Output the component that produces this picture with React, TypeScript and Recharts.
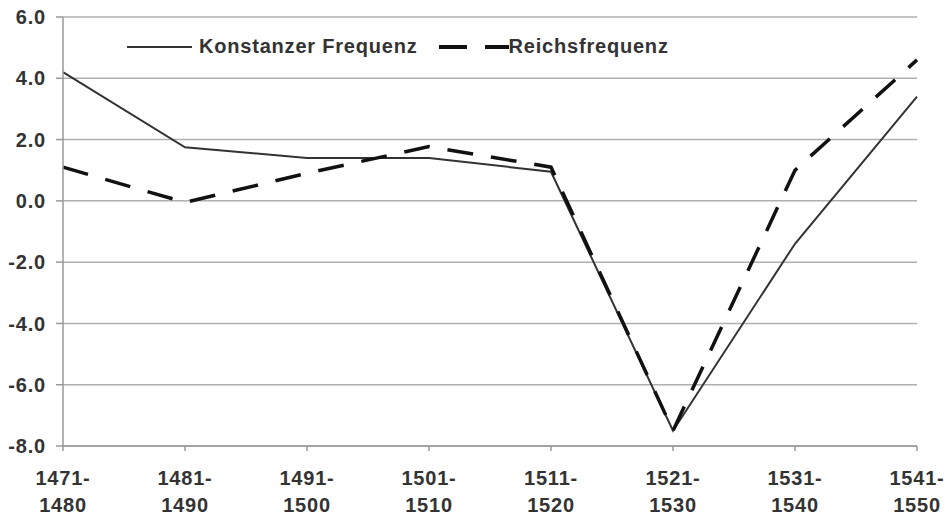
import { CartesianGrid, Line, LineChart, XAxis, YAxis } from "recharts";

const periods = [
  "1471-1480",
  "1481-1490",
  "1491-1500",
  "1501-1510",
  "1511-1520",
  "1521-1530",
  "1531-1540",
  "1541-1550",
];
const konstanzer = [4.2, 1.75, 1.4, 1.4, 0.95, -7.5, -1.4, 3.4];
const reichs = [1.1, -0.05, 0.9, 1.77, 1.1, -7.5, 1.0, 4.6];
const yTicks = [-8, -6, -4, -2, 0, 2, 4, 6];

const data = periods.map((p, i) => ({
  period: p,
  konstanzer: konstanzer[i],
  reichs: reichs[i],
}));

const font = "'Liberation Sans', Arial, sans-serif";
const textColor = "#333";

const PeriodTick = (props: any) => {
  const { x, y, payload } = props;
  const [from, to] = String(payload.value).split("-");
  return (
    <text
      x={x}
      y={y}
      textAnchor="middle"
      fill={textColor}
      fontFamily={font}
      fontWeight="bold"
      fontSize={20}
      letterSpacing={0.8}
    >
      <tspan x={x} dy={34}>{`${from}-`}</tspan>
      <tspan x={x} dy={27}>{to}</tspan>
    </text>
  );
};

// legend sits inside the plot, drawn as an overlay so it takes no chart space
const LegendBox = () => (
  <div
    style={{
      position: "absolute",
      top: 35,
      left: 127,
      display: "flex",
      alignItems: "center",
      fontFamily: font,
      fontWeight: "bold",
      fontSize: 20,
      letterSpacing: 0.8,
      color: textColor,
      whiteSpace: "nowrap",
    }}
  >
    <svg width={72} height={10}>
      <line x1={0} y1={5} x2={65} y2={5} stroke="#333" strokeWidth={2} />
    </svg>
    <span>Konstanzer Frequenz</span>
    <svg width={91} height={10} style={{ marginLeft: 21 }}>
      <line x1={0} y1={5} x2={28} y2={5} stroke="#111" strokeWidth={4} />
      <line x1={46} y1={5} x2={70} y2={5} stroke="#111" strokeWidth={4} />
    </svg>
    <span style={{ marginLeft: -21 }}>Reichsfrequenz</span>
  </div>
);

export default function App() {
  return (
    <div style={{ position: "absolute", left: 0, top: 0, background: "#fff" }}>
      <LineChart
        width={952}
        height={516}
        data={data}
        margin={{ top: 17, right: 35, bottom: 0, left: 0 }}
      >
        <CartesianGrid vertical={false} stroke="#b0b0b0" strokeWidth={1.5} />
        <XAxis
          dataKey="period"
          height={70}
          interval={0}
          tick={<PeriodTick />}
          tickSize={5}
          tickMargin={0}
          axisLine={{ stroke: "#999", strokeWidth: 1.5 }}
          tickLine={{ stroke: "#999", strokeWidth: 1.5 }}
        />
        <YAxis
          width={63}
          domain={[-8, 6]}
          ticks={yTicks}
          interval={0}
          tickSize={7}
          tickMargin={10}
          tickFormatter={(v: number) => v.toFixed(1)}
          tick={{
            fill: textColor,
            fontFamily: font,
            fontWeight: "bold",
            fontSize: 20,
            letterSpacing: 0.8,
          }}
          axisLine={{ stroke: "#999", strokeWidth: 1.5 }}
          tickLine={{ stroke: "#999", strokeWidth: 1.5 }}
        />
        <Line
          type="linear"
          dataKey="konstanzer"
          name="Konstanzer Frequenz"
          stroke="#333"
          strokeWidth={2}
          dot={false}
          activeDot={false}
          isAnimationActive={false}
        />
        <Line
          type="linear"
          dataKey="reichs"
          name="Reichsfrequenz"
          stroke="#111"
          strokeWidth={3.5}
          strokeDasharray="26 18"
          dot={false}
          activeDot={false}
          isAnimationActive={false}
        />
      </LineChart>
      <LegendBox />
    </div>
  );
}
